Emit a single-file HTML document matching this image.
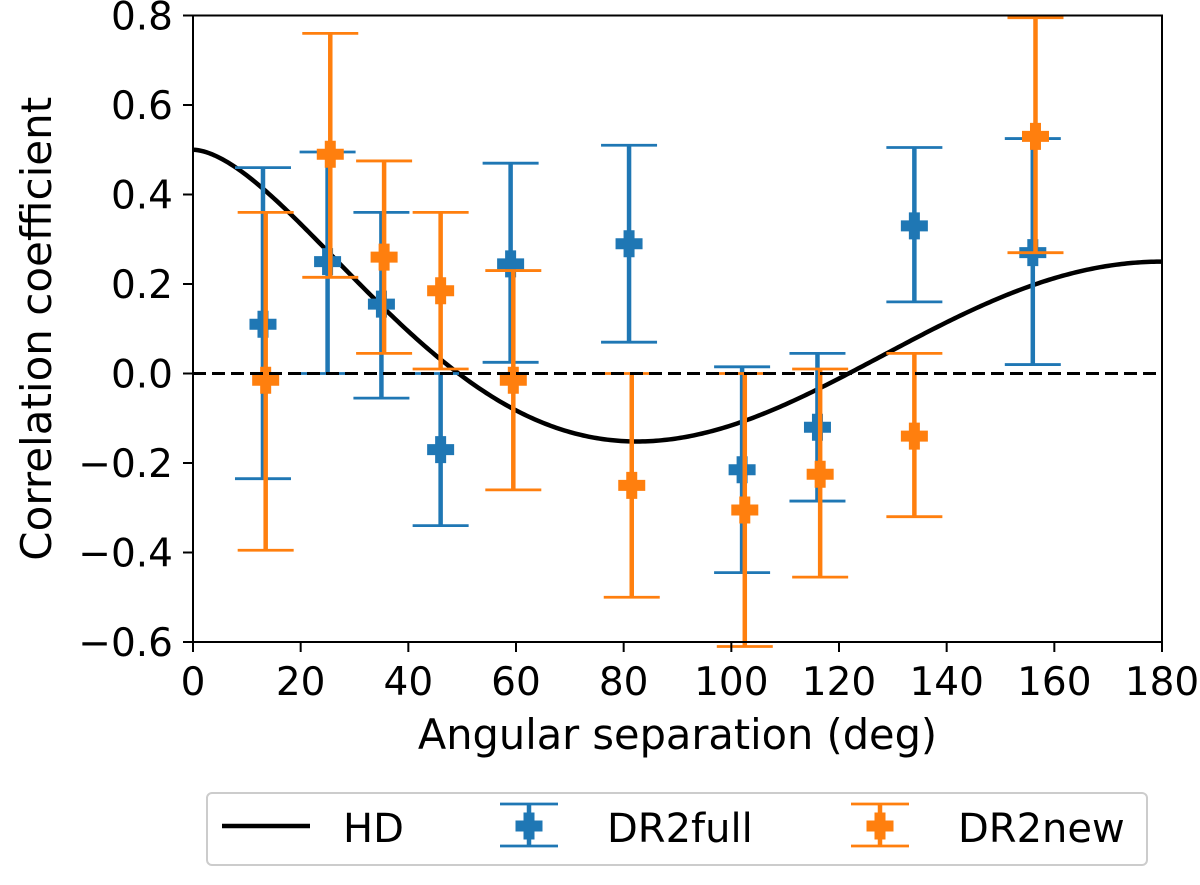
<!DOCTYPE html>
<html><head><meta charset="utf-8"><style>
body{margin:0;background:#fff}
svg text{font-family:"DejaVu Sans","Liberation Sans",sans-serif;fill:#000}
</style></head><body>
<svg id="c" width="1200" height="880" xmlns="http://www.w3.org/2000/svg">
<rect width="1200" height="880" fill="#fff"/>
<g id="plot"></g>
</svg>
<script>
const fullX=[13,25,35,46,59,81,102,116,134,156];
const fullY=[0.11,0.25,0.155,-0.17,0.245,0.29,-0.215,-0.12,0.33,0.27];
const fullLo=[-0.235,0.0,-0.055,-0.34,0.025,0.07,-0.445,-0.285,0.16,0.02];
const fullHi=[0.46,0.495,0.36,0.0,0.47,0.51,0.015,0.045,0.505,0.525];
const newX=[13.5,25.5,35.5,46,59.5,81.5,102.5,116.5,134,156.5];
const newY=[-0.015,0.49,0.26,0.185,-0.015,-0.25,-0.305,-0.225,-0.14,0.53];
const newLo=[-0.395,0.215,0.045,0.01,-0.26,-0.5,-0.61,-0.455,-0.32,0.27];
const newHi=[0.36,0.76,0.475,0.36,0.23,0.0,0.0,0.01,0.045,0.795];
const xTicks=[0,20,40,60,80,100,120,140,160,180];
const yTicks=[-0.6,-0.4,-0.2,0.0,0.2,0.4,0.6,0.8];
const L=193,R=1162,T=15.5,B=642;
const sx=v=>L+(v/180)*(R-L);
const sy=v=>B-(v+0.6)/1.4*(B-T);
const NS="http://www.w3.org/2000/svg";
const g=document.getElementById('plot');
function mk(t,a,p){const e=document.createElementNS(NS,t);for(const k in a)e.setAttribute(k,a[k]);(p||g).appendChild(e);return e;}
function plus(cx,cy,col,parent){
  mk('path',{d:`M${cx-5.5},${cy-13.5}h11v8h8v11h-8v8h-11v-8h-8v-11h8z`,fill:col},parent);
}
let d="";
for(let i=0;i<=360;i++){const th=i/2*Math.PI/180;let x=(1-Math.cos(th))/2;let v=x>0?1.5*x*Math.log(x)-x/4+0.5:0.5;d+=(i?"L":"M")+sx(i/2).toFixed(2)+","+sy(v).toFixed(2);}
const hd=mk('path',{d:d,fill:'none',stroke:'#000','stroke-width':4.5});


function bars(X,Lo,Hi,col,name){
  for(let i=0;i<X.length;i++){
    const gg=mk('g',{});
    
    
    const x=sx(X[i]);
    mk('line',{x1:x,x2:x,y1:sy(Lo[i]),y2:sy(Hi[i]),stroke:col,'stroke-width':4.5},gg);
    mk('line',{x1:x-28,x2:x+28,y1:sy(Lo[i]),y2:sy(Lo[i]),stroke:col,'stroke-width':2.8},gg);
    mk('line',{x1:x-28,x2:x+28,y1:sy(Hi[i]),y2:sy(Hi[i]),stroke:col,'stroke-width':2.8},gg);
  }
}
function markers(X,Y,col,name){
  for(let i=0;i<X.length;i++){
    const gg=mk('g',{});
    
    
    plus(sx(X[i]),sy(Y[i]),col,gg);
  }
}
bars(fullX,fullLo,fullHi,'#1f77b4','dr2full');
markers(fullX,fullY,'#1f77b4','dr2full');
bars(newX,newLo,newHi,'#ff7f0e','dr2new');
markers(newX,newY,'#ff7f0e','dr2new');
const zl=mk('line',{x1:L,x2:R,y1:sy(0),y2:sy(0),stroke:'#000','stroke-width':3,'stroke-dasharray':'13,6'});


const fr=mk('rect',{x:L,y:T,width:R-L,height:B-T,fill:'none',stroke:'#000','stroke-width':2});


xTicks.forEach(v=>{const x=sx(v);mk('line',{x1:x,x2:x,y1:B,y2:B+10,stroke:'#000','stroke-width':2});
 const t=mk('text',{x:x,y:B+53,'text-anchor':'middle','font-size':39});t.textContent=v;
 
 });
yTicks.forEach(v=>{const y=sy(v);mk('line',{x1:L-10,x2:L,y1:y,y2:y,stroke:'#000','stroke-width':2});
 const t=mk('text',{x:L-20,y:y+14,'text-anchor':'end','font-size':39});t.textContent=(v<0?'\u2212':'')+Math.abs(v).toFixed(1);
 
 });
const xt=mk('text',{x:(L+R)/2,y:749,'text-anchor':'middle','font-size':41.5});xt.textContent='Angular separation (deg)';


const yt=mk('text',{x:0,y:0,'text-anchor':'middle','font-size':42,transform:`translate(51,${(T+B)/2}) rotate(-90)`});yt.textContent='Correlation coefficient';


const lg=mk('g',{});


mk('rect',{x:207,y:793,width:940,height:72,rx:5,fill:'#fff',stroke:'#ccc','stroke-width':2},lg);
mk('line',{x1:222,x2:310,y1:826,y2:826,stroke:'#000','stroke-width':4.5},lg);
let t=mk('text',{x:343,y:842,'font-size':40},lg);t.textContent='HD';
function legErr(cx,col,label){
 mk('line',{x1:cx,x2:cx,y1:804,y2:846,stroke:col,'stroke-width':4.5},lg);
 mk('line',{x1:cx-29,x2:cx+29,y1:804,y2:804,stroke:col,'stroke-width':2.8},lg);
 mk('line',{x1:cx-29,x2:cx+29,y1:846,y2:846,stroke:col,'stroke-width':2.8},lg);
 plus(cx,826,col,lg);
 const tt=mk('text',{x:cx+78,y:842,'font-size':40},lg);tt.textContent=label;
}
legErr(529,'#1f77b4','DR2full');
legErr(880,'#ff7f0e','DR2new');
</script>
</body></html>
